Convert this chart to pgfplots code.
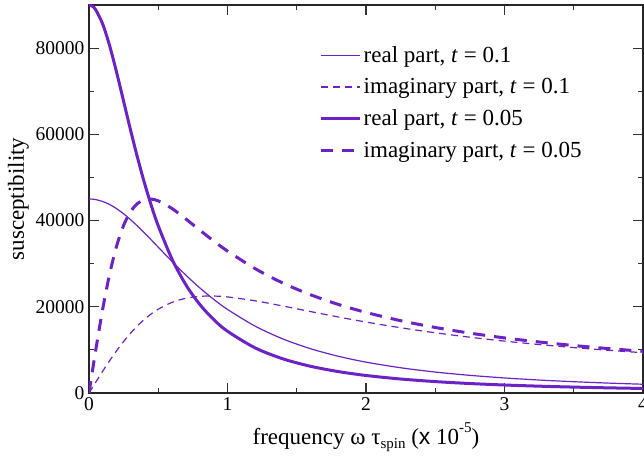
\documentclass[border=0pt]{standalone}
\usepackage{fontspec}
\setmainfont{Liberation Serif}
\newfontfamily\sansx{Liberation Sans}
\usepackage{pgfplots}
\pgfplotsset{compat=1.18}
\definecolor{violetline}{HTML}{6C22C6}

% Debye-like curves (x in units of 1e-5)
\pgfplotstableread{
x      R1     I1     R2     I2
0      90000  0      45000  0
0.025  89704  5155   44963  1292
0.05   88826  10210  44852  2578
0.1    85482  19652  44413  5105
0.15   80436  27737  43701  7535
0.2    74294  34158  42741  9826
0.25   67654  38881  41568  11945
0.3    60991  42063  40218  13868
0.35   54632  43957  38731  15581
0.4    48766  44842  37147  17079
0.45   43475  44974  35502  18363
0.5    38774  44568  33827  19441
0.6    31008  42769  30496  21032
0.7    25073  40347  27316  21979
0.8    20538  37771  24383  22421
0.9    17044  35263  21737  22487
1.0    14320  32920  19387  22284
1.2    10453  28836  15504  21385
1.4    7924   25502  12536  20174
1.6    6195   22786  10269  18885
1.8    4966   20549  8522   17631
2.0    4065   18690  7160   16460
2.25   3243   16774  5853   15137
2.5    2645   15201  4861   13968
2.75   2197   13889  4094   12941
3.0    1853   12779  3491   12038
3.25   1584   11835  3009   11241
3.5    1369   11015  2619   10536
3.75   1195   10302  2298   9906
4.0    1052   9674   2033   9345
}\datatable

\begin{document}
\begin{tikzpicture}
\begin{axis}[
  at={(0,0)}, anchor=south west,
  scale only axis,
  width=554pt, height=388pt,
  xmin=0, xmax=4, ymin=0, ymax=90000,
  xtick={0,1,2,3,4}, minor xtick={0.5,1.5,2.5,3.5},
  ytick={0,20000,40000,60000,80000},
  minor ytick={10000,30000,50000,70000},
  tick align=inside,
  major tick length=10pt, minor tick length=5pt,
  axis line style={line width=1.3pt, black!85},
  every tick/.style={line width=1.2pt, black!80},
  scaled y ticks=false,
  /pgf/number format/.cd, assume math mode=true, set thousands separator={}, fixed,
  /pgfplots/.cd,
  tick label style={font=\fontsize{19.5}{20}\selectfont},
  yticklabel style={xshift=-1pt},
  xticklabel style={yshift=-1pt},
  xlabel={frequency ω τ\raisebox{-0.45ex}{\fontsize{15}{15}\selectfont spin} ({\sansx x} 10\raisebox{1.1ex}{\fontsize{15}{15}\selectfont -5})},
  ylabel={susceptibility},
  label style={font=\fontsize{23}{24}\selectfont},
  xlabel style={at={(axis description cs:0.5,0)}, anchor=base, yshift=-51pt},
  ylabel style={at={(axis description cs:0,0.5)}, anchor=base, yshift=65pt},
  legend style={draw=none, fill=none, at={(axis cs:1.65,81300)}, anchor=north west,
    font=\fontsize{23}{24}\selectfont, row sep=10.5pt, inner sep=2pt},
  legend cell align=left,
  legend image code/.code={\draw[#1] (0pt,0pt) -- (33pt,0pt); \path (0pt,0pt) -- (39pt,0pt);},
]
\addplot[violetline, line width=1.2pt, smooth] table[x=x, y=R2] {\datatable};
\addlegendentry{real part, \textit{t} = 0.1}
\addplot[violetline, line width=1.2pt, smooth, dash pattern=on 7pt off 5pt] table[x=x, y=I2] {\datatable};
\addlegendentry{imaginary part, \textit{t} = 0.1}
\addplot[violetline, line width=3pt, smooth] table[x=x, y=R1] {\datatable};
\addlegendentry{real part, \textit{t} = 0.05}
\addplot[violetline, line width=3pt, smooth, dash pattern=on 12pt off 9pt] table[x=x, y=I1] {\datatable};
\addlegendentry{imaginary part, \textit{t} = 0.05}
\end{axis}
\pgfresetboundingbox
\useasboundingbox (-89pt,-64pt) rectangle (555pt,393pt);
\end{tikzpicture}
\end{document}
